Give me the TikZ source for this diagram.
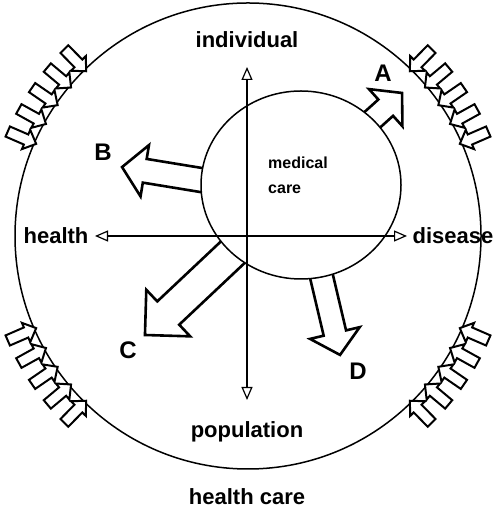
\documentclass[tikz,border=0pt]{standalone}
\usepackage{fontspec}
\setmainfont{Liberation Sans}
\usetikzlibrary{arrows.meta}

\begin{document}
\begin{tikzpicture}[x=1pt, y=1pt,
    lbl/.style={font=\bfseries\fontsize{22}{26}\selectfont, inner sep=0pt},
    letter/.style={font=\bfseries\fontsize{24}{28}\selectfont, inner sep=0pt},
    medlbl/.style={font=\bfseries\fontsize{16}{25}\selectfont, inner sep=0pt, align=left},
    axis/.style={line width=2.8pt, {Triangle[open, length=13pt, width=11pt, line width=1.2pt]}-{Triangle[open, length=13pt, width=11pt, line width=1.2pt]}},
    blockarr/.style={draw, fill=white, line width=2.6pt, line join=miter},
    smallarr/.style={draw, fill=white, line width=2pt, line join=miter}
  ]
  \useasboundingbox (0,0) rectangle (493,513);
  \coordinate (ctr) at (248,277);
  \coordinate (sc) at (301,328);
  % outer circle: health care
  \draw[line width=1.5pt] (ctr) circle[radius=233];
  % pressure arrows round the outer circle
  \foreach \b in {34.5,145.5,214.5,325.5}
    \foreach \d in {-11,-5.5,0,5.5,11}
      \draw[smallarr, shift={(ctr)}, rotate={\b+\d}]
        (262,-5.5) -- (242,-5.5) -- (242,-10.5) -- (231,0) -- (242,10.5) -- (242,5.5) -- (262,5.5) -- cycle;
  % block arrows A, B, C, D
  \foreach \tx/\ty/\ang/\len/\sw/\hw/\hl in {372.7/393.6/42/39.5/11/25/22,
      201/333/170.7/80/12/26/23, 232.5/260.5/223.3/120.3/16/32/32,
      321.5/236.5/-76.7/80.6/11.5/25.5/22.5}
    \draw[blockarr, shift={(\tx,\ty)}, rotate=\ang]
      (-14,-\sw) -- ({\len-\hl},-\sw) -- ({\len-\hl},-\hw) -- (\len,0)
      -- ({\len-\hl},\hw) -- ({\len-\hl},\sw) -- (-14,\sw) -- cycle;
  % inner circle: medical care
  \draw[line width=1.5pt, fill=white] (sc) ellipse[x radius=100, y radius=94];
  % axes
  \coordinate (ytop) at (247,446);
  \coordinate (ybot) at (247,113);
  \coordinate (xleft) at (95,277);
  \coordinate (xright) at (407,277);
  \draw[axis] (ybot) -- (ytop);
  \draw[axis] (xleft) -- (xright);
  % labels
  \node[lbl] (indiv) at (247,473) {individual};
  \node[lbl] (popul) at (247,81) {population};
  \node[lbl] (hlth) at (56,277) {health};
  \node[lbl] (dis) at (453,277) {disease};
  \node[lbl] (hcare) at (247,16) {health care};
  \node[medlbl] (med) at (298,338) {medical\\care};
  \node[letter] (la) at (383,440) {A};
  \node[letter] (lb) at (103,361) {B};
  \node[letter] (lc) at (128,163) {C};
  \node[letter] (ld) at (358,142) {D};
\end{tikzpicture}
\end{document}
